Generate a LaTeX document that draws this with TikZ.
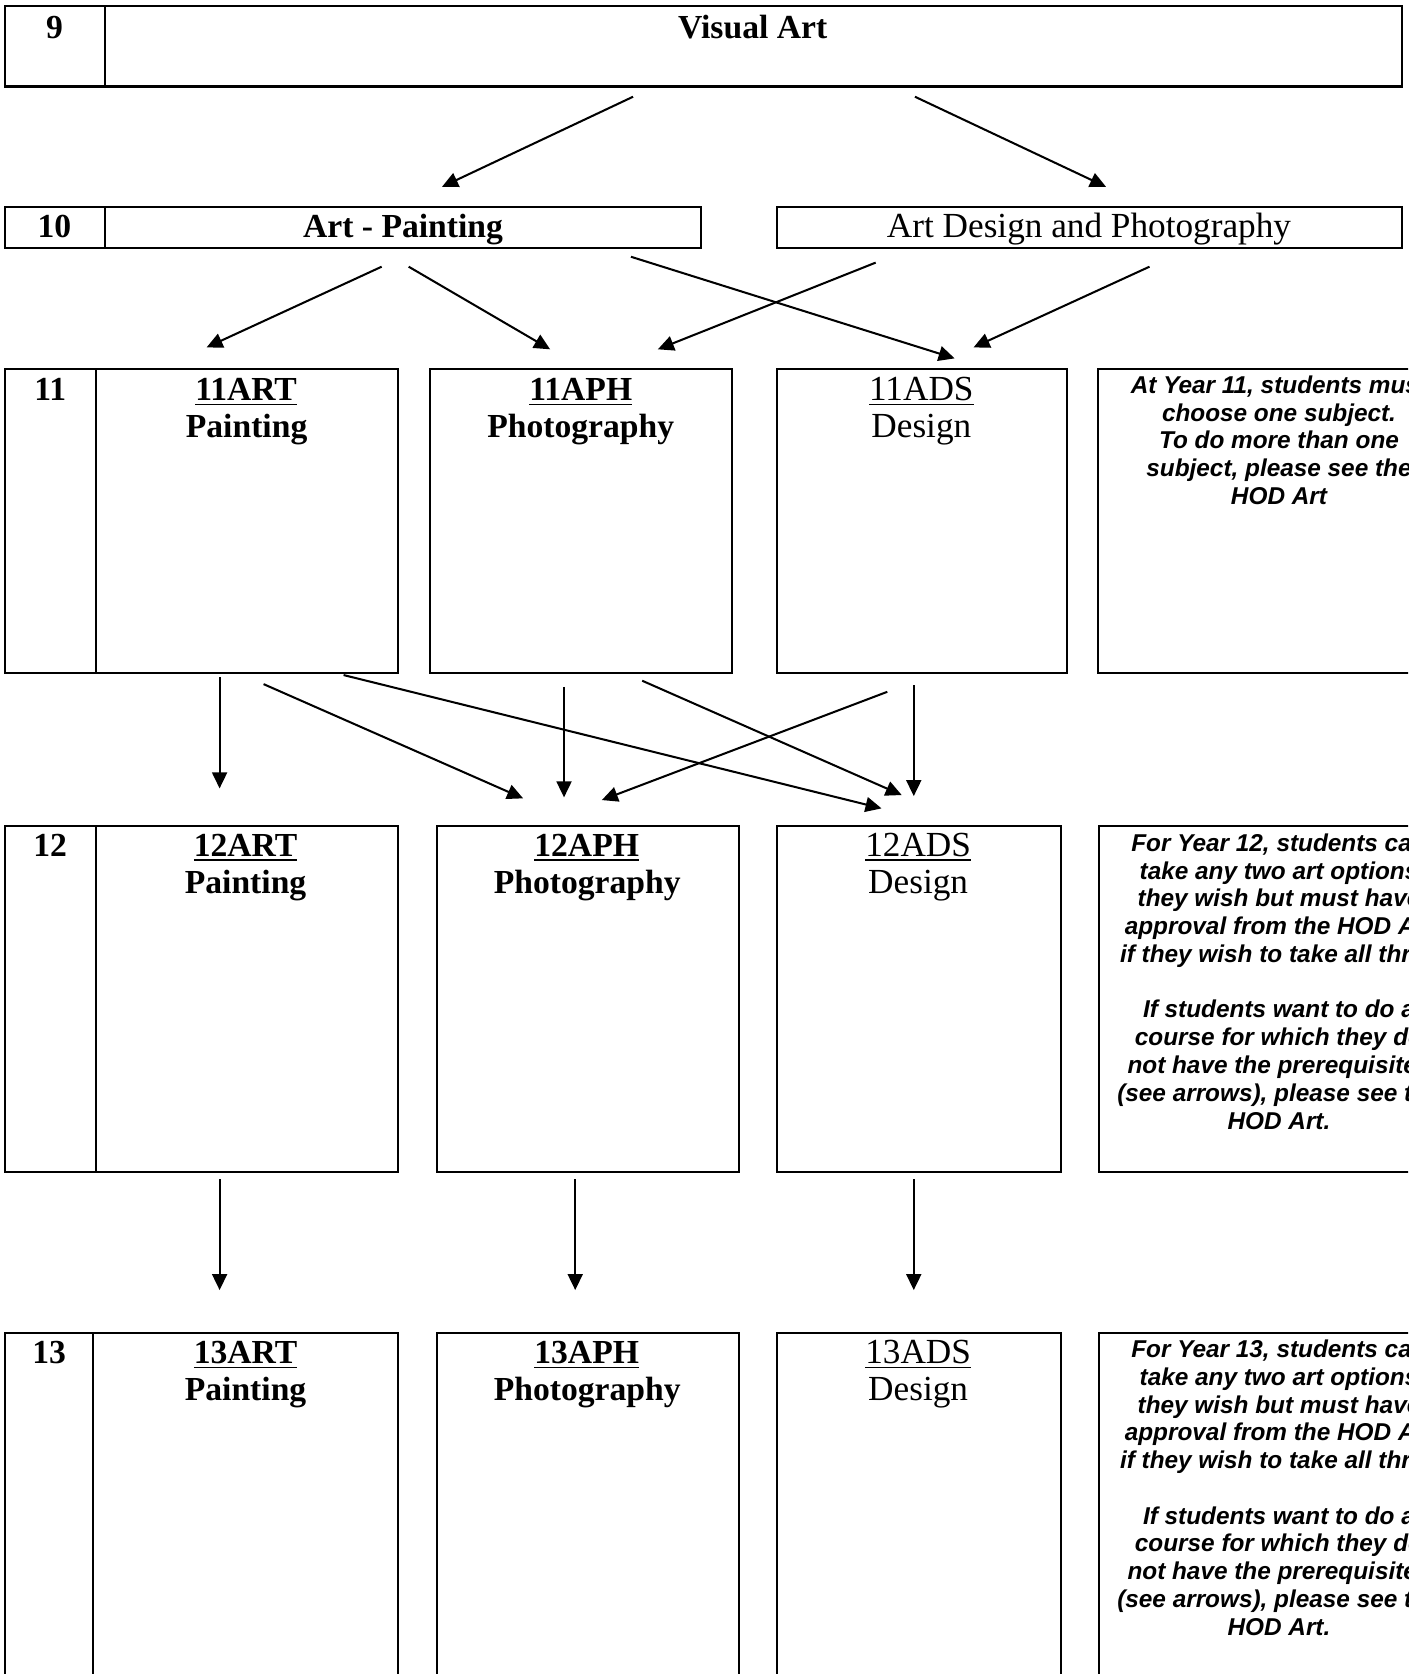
\documentclass[tikz,border=0pt]{standalone}
\usepackage{fontspec}
\setmainfont{Liberation Serif}
\newfontfamily\notesans{Liberation Sans}
\usetikzlibrary{arrows.meta}
\newcommand\ulcode[1]{\setbox0\hbox{#1}\rlap{\rule[-4.5pt]{\wd0}{1.5pt}}\box0}
\begin{document}
\begin{tikzpicture}[x=1pt,y=-1pt,
  cell/.style={draw, line width=2pt, inner sep=0pt, outer sep=0pt, anchor=north west},
  bt/.style={inner sep=0pt, anchor=base, font=\fontsize{31.5}{35}\selectfont\bfseries},
  rt/.style={inner sep=0pt, anchor=base, font=\fontsize{33}{37}\selectfont},
  note/.style={inner sep=0pt, anchor=north, align=center, font=\notesans\fontsize{22.8}{26}\selectfont\bfseries\itshape},
  arr/.style={line width=1.9pt, -{Triangle[length=15pt,width=14pt]}}]
\useasboundingbox (0,0) rectangle (1319,1568);
\clip (0,0) rectangle (1319,1568);
\fill[white] (0,0) rectangle (1319,1568);

% ---- cells ----
\node[cell, minimum width=93pt, minimum height=75pt] (c9) at (5,6) {};
\node[cell, minimum width=1215.5pt, minimum height=75pt] (cva) at (98,6) {};
\node[cell, minimum width=93pt, minimum height=38pt] (c10) at (5,194) {};
\node[cell, minimum width=559pt, minimum height=38pt] (cap) at (98,194) {};
\node[cell, minimum width=586pt, minimum height=38pt] (cadp) at (727.6,194) {};

\node[cell, minimum width=85pt, minimum height=284pt] (c11) at (5,346) {};
\node[cell, minimum width=283pt, minimum height=284pt] (c11a) at (90,346) {};
\node[cell, minimum width=283.5pt, minimum height=284pt] (c11b) at (402.5,346) {};
\node[cell, minimum width=271.7pt, minimum height=284pt] (c11c) at (727.6,346) {};
\node[cell, minimum width=340pt, minimum height=284pt] (c11d) at (1028.5,346) {};

\node[cell, minimum width=85pt, minimum height=324pt] (c12) at (5,773.5) {};
\node[cell, minimum width=283pt, minimum height=324pt] (c12a) at (90,773.5) {};
\node[cell, minimum width=283pt, minimum height=324pt] (c12b) at (409.3,773.5) {};
\node[cell, minimum width=266.4pt, minimum height=324pt] (c12c) at (727.6,773.5) {};
\node[cell, minimum width=340pt, minimum height=324pt] (c12d) at (1029.6,773.5) {};

\node[cell, minimum width=82pt, minimum height=400pt] (c13) at (5,1248.4) {};
\node[cell, minimum width=286pt, minimum height=400pt] (c13a) at (87,1248.4) {};
\node[cell, minimum width=283pt, minimum height=400pt] (c13b) at (409.3,1248.4) {};
\node[cell, minimum width=266.4pt, minimum height=400pt] (c13c) at (727.6,1248.4) {};
\node[cell, minimum width=340pt, minimum height=400pt] (c13d) at (1029.6,1248.4) {};

% ---- texts ----
\node[bt] (t9) at (51,36) {9};
\node[bt] (tva) at (705,36) {Visual Art};
\node[bt] (t10) at (51,222) {10};
\node[bt] (tap) at (377.5,222) {Art - Painting};
\node[rt] (tadp) at (1020,222) {Art Design and Photography};

\node[bt] (t11) at (47,375) {11};
\node[bt] (k11a) at (230.5,375) {\ulcode{11ART}};
\node[bt] (n11a) at (231,410) {Painting};
\node[bt] (k11b) at (544,375) {\ulcode{11APH}};
\node[bt] (n11b) at (544,410) {Photography};
\node[rt] (k11c) at (863,375) {\ulcode{11ADS}};
\node[rt] (n11c) at (863,410) {Design};
\node[note] (m11) at (1198,351.8) {At Year 11, students must\\choose one subject.\\To do more than one\\subject, please see the\\HOD Art};

\node[bt] (t12) at (47,802) {12};
\node[bt] (k12a) at (230,802) {\ulcode{12ART}};
\node[bt] (n12a) at (230,837) {Painting};
\node[bt] (k12b) at (549.5,802) {\ulcode{12APH}};
\node[bt] (n12b) at (550,837) {Photography};
\node[rt] (k12c) at (860,802) {\ulcode{12ADS}};
\node[rt] (n12c) at (860,837) {Design};
\node[note] (m12) at (1198,780.8) {For Year 12, students can\\take any two art options\\they wish but must have\\approval from the HOD Art\\if they wish to take all three\\[26pt]If students want to do a\\course for which they do\\not have the prerequisites\\(see arrows), please see the\\HOD Art.};

\node[bt] (t13) at (46,1277) {13};
\node[bt] (k13a) at (230,1277) {\ulcode{13ART}};
\node[bt] (n13a) at (230,1312) {Painting};
\node[bt] (k13b) at (549.5,1277) {\ulcode{13APH}};
\node[bt] (n13b) at (550,1312) {Photography};
\node[rt] (k13c) at (860,1277) {\ulcode{13ADS}};
\node[rt] (n13c) at (860,1312) {Design};
\node[note] (m13) at (1198,1254.8) {For Year 13, students can\\take any two art options\\they wish but must have\\approval from the HOD Art\\if they wish to take all three\\[26pt]If students want to do a\\course for which they do\\not have the prerequisites\\(see arrows), please see the\\HOD Art.};

% ---- arrow end points ----
\coordinate (a1s) at (593,90.6);   \coordinate (a1e) at (414,175);
\coordinate (a2s) at (857,90.6);   \coordinate (a2e) at (1036,175);

\coordinate (b1s) at (357.5,249.8); \coordinate (b1e) at (193.5,325.4);
\coordinate (b2s) at (382.8,249.8); \coordinate (b2e) at (515.3,327.2);
\coordinate (b3s) at (591,240.5);   \coordinate (b3e) at (894.2,335.7);
\coordinate (b4s) at (820.2,246);   \coordinate (b4e) at (616.2,327.2);
\coordinate (b5s) at (1076.7,249.8); \coordinate (b5e) at (911.9,325.4);

\coordinate (c1s) at (205.7,634.5); \coordinate (c1e) at (205.7,738.5);
\coordinate (c2s) at (246.9,640.8); \coordinate (c2e) at (490,747.8);
\coordinate (c3s) at (321.8,632.3); \coordinate (c3e) at (825.7,757.2);
\coordinate (c4s) at (528.3,643.3); \coordinate (c4e) at (528.3,746.9);
\coordinate (c5s) at (601.5,637.6); \coordinate (c5e) at (844.6,744.7);
\coordinate (c6s) at (831.1,648);   \coordinate (c6e) at (563.7,749.4);
\coordinate (c7s) at (855.9,641.7); \coordinate (c7e) at (855.9,745.7);

\coordinate (d1s) at (205.7,1104.5); \coordinate (d1e) at (205.7,1208.4);
\coordinate (d2s) at (538.8,1104.5); \coordinate (d2e) at (538.8,1208.4);
\coordinate (d3s) at (855.9,1104.5); \coordinate (d3e) at (855.9,1208.4);

% ---- arrows ----
\foreach \p in {a1,a2,b1,b2,b3,b4,b5,c1,c2,c3,c4,c5,c6,c7,d1,d2,d3}
  \draw[arr] (\p s) -- (\p e);
\end{tikzpicture}
\end{document}
